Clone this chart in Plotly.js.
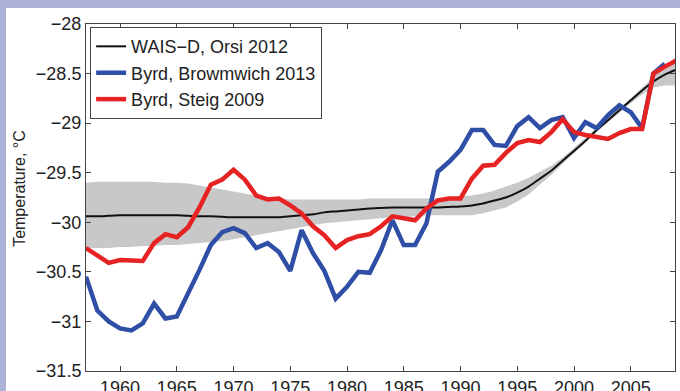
<!DOCTYPE html>
<html>
<head>
<meta charset="utf-8">
<script src="https://cdn.plot.ly/plotly-3.0.1.min.js"></script>
<style>
  html, body { margin: 0; padding: 0; background: #abb1d9; width: 680px; height: 391px; overflow: hidden; }
  #chart { position: absolute; left: 6px; top: 8px; width: 674px; height: 383px; background: #ffffff; }
</style>
</head>
<body>
<div id="chart"></div>
<script>
// Years for the annual series
const years = [1957,1958,1959,1960,1961,1962,1963,1964,1965,1966,1967,1968,1969,1970,1971,1972,1973,1974,1975,1976,1977,1978,1979,1980,1981,1982,1983,1984,1985,1986,1987,1988,1989,1990,1991,1992,1993,1994,1995,1996,1997,1998,1999,2000,2001,2002,2003,2004,2005,2006,2007,2008,2009];

// WAIS-D, Orsi 2012 (smooth reconstruction)
const waisD = [-29.94,-29.94,-29.935,-29.93,-29.93,-29.93,-29.93,-29.93,-29.93,-29.935,-29.94,-29.94,-29.945,-29.95,-29.95,-29.95,-29.95,-29.95,-29.94,-29.93,-29.92,-29.90,-29.89,-29.88,-29.87,-29.86,-29.855,-29.85,-29.85,-29.85,-29.85,-29.85,-29.845,-29.84,-29.83,-29.81,-29.78,-29.75,-29.70,-29.64,-29.56,-29.48,-29.38,-29.28,-29.18,-29.07,-28.97,-28.87,-28.77,-28.67,-28.58,-28.51,-28.46];
// Uncertainty envelope for WAIS-D
const waisUpper = [-29.60,-29.59,-29.59,-29.59,-29.59,-29.59,-29.59,-29.60,-29.60,-29.61,-29.63,-29.65,-29.67,-29.69,-29.71,-29.73,-29.75,-29.76,-29.77,-29.77,-29.77,-29.77,-29.77,-29.77,-29.77,-29.76,-29.76,-29.76,-29.76,-29.76,-29.76,-29.76,-29.75,-29.74,-29.73,-29.71,-29.68,-29.64,-29.60,-29.55,-29.49,-29.43,-29.35,-29.25,-29.15,-29.05,-28.95,-28.85,-28.75,-28.64,-28.53,-28.43,-28.33];
const waisLower = [-30.26,-30.26,-30.26,-30.25,-30.25,-30.24,-30.24,-30.23,-30.23,-30.22,-30.21,-30.20,-30.19,-30.17,-30.15,-30.13,-30.11,-30.09,-30.07,-30.05,-30.03,-30.01,-30.00,-29.99,-29.98,-29.97,-29.96,-29.95,-29.95,-29.94,-29.93,-29.93,-29.93,-29.93,-29.93,-29.91,-29.88,-29.85,-29.79,-29.72,-29.62,-29.52,-29.41,-29.30,-29.20,-29.09,-28.99,-28.89,-28.80,-28.71,-28.64,-28.62,-28.62];

// Byrd, Bromwich 2013 (1957-2008)
const bromwichYears = [1957,1958,1959,1960,1961,1962,1963,1964,1965,1966,1967,1968,1969,1970,1971,1972,1973,1974,1975,1976,1977,1978,1979,1980,1981,1982,1983,1984,1985,1986,1987,1988,1989,1990,1991,1992,1993,1994,1995,1996,1997,1998,1999,2000,2001,2002,2003,2004,2005,2006,2007,2008];
const bromwich = [-30.55,-30.89,-31.00,-31.07,-31.09,-31.02,-30.82,-30.97,-30.95,-30.72,-30.48,-30.23,-30.10,-30.06,-30.11,-30.26,-30.21,-30.30,-30.49,-30.08,-30.31,-30.49,-30.77,-30.65,-30.50,-30.51,-30.28,-29.98,-30.23,-30.23,-30.01,-29.49,-29.39,-29.27,-29.07,-29.07,-29.22,-29.23,-29.03,-28.94,-29.05,-28.97,-28.94,-29.15,-28.99,-29.05,-28.92,-28.82,-28.89,-29.05,-28.50,-28.40];

// Byrd, Steig 2009 (1957-2009)
const steig = [-30.26,-30.34,-30.41,-30.38,-30.39,-30.39,-30.21,-30.12,-30.15,-30.05,-29.85,-29.62,-29.57,-29.47,-29.57,-29.73,-29.77,-29.76,-29.83,-29.91,-30.04,-30.13,-30.26,-30.18,-30.14,-30.12,-30.04,-29.94,-29.96,-29.98,-29.86,-29.78,-29.76,-29.76,-29.56,-29.43,-29.42,-29.30,-29.20,-29.17,-29.19,-29.09,-28.96,-29.09,-29.12,-29.14,-29.16,-29.10,-29.06,-29.06,-28.50,-28.43,-28.37];

const seriesNames = ['WAIS\u2212D, Orsi 2012', 'Byrd, Browmwich 2013', 'Byrd, Steig 2009'];
const xTicks = [1960,1965,1970,1975,1980,1985,1990,1995,2000,2005];
const yTicks = [-28,-28.5,-29,-29.5,-30,-30.5,-31,-31.5];
const yTitle = 'Temperature, \u00B0C';

const FONT = 'Arial, "Liberation Sans", Helvetica, sans-serif';

const traces = [
  { x: years, y: waisUpper, mode: 'lines', line: {width: 0, color: 'rgba(0,0,0,0)'}, showlegend: false, hoverinfo: 'skip' },
  { x: years, y: waisLower, mode: 'lines', line: {width: 0, color: 'rgba(0,0,0,0)'}, fill: 'tonexty', fillcolor: '#c8c8c8', showlegend: false, hoverinfo: 'skip' },
  { x: years, y: waisD, name: seriesNames[0], mode: 'lines', line: {color: '#111111', width: 2, shape: 'spline', smoothing: 0.6} },
  { x: bromwichYears, y: bromwich, name: seriesNames[1], mode: 'lines', line: {color: '#2f4ea6', width: 4.5} },
  { x: years, y: steig, name: seriesNames[2], mode: 'lines', line: {color: '#e62222', width: 4.5} }
];

const axisCommon = {
  showgrid: false, zeroline: false,
  showline: true, linecolor: '#444', linewidth: 1, mirror: 'ticks',
  ticks: 'inside', ticklen: 5, tickwidth: 1, tickcolor: '#444',
  tickfont: {family: FONT, size: 18, color: '#222'}
};

const layout = {
  width: 674, height: 383,
  margin: {l: 80, r: 5, t: 16, b: 20},
  paper_bgcolor: '#ffffff', plot_bgcolor: '#ffffff',
  font: {family: FONT, color: '#222'},
  showlegend: true,
  legend: {
    x: 0.007, y: 0.991, xanchor: 'left', yanchor: 'top',
    traceorder: 'normal',
    bgcolor: '#ffffff', bordercolor: '#444', borderwidth: 1,
    font: {family: FONT, size: 18, color: '#222'},
    itemwidth: 30, tracegroupgap: 0
  },
  xaxis: Object.assign({}, axisCommon, {
    range: [1957, 2008.9], tickvals: xTicks, ticktext: xTicks.map(String)
  }),
  yaxis: Object.assign({}, axisCommon, {
    range: [-31.5, -28], tickvals: yTicks
  }),
  annotations: [{
    text: yTitle, textangle: -90, showarrow: false,
    xref: 'paper', yref: 'paper', x: -0.112, y: 0.525,
    xanchor: 'center', yanchor: 'middle',
    font: {family: FONT, size: 16, color: '#222'}
  }]
};

Plotly.newPlot('chart', traces, layout, {displayModeBar: false, staticPlot: true});
</script>
</body>
</html>
